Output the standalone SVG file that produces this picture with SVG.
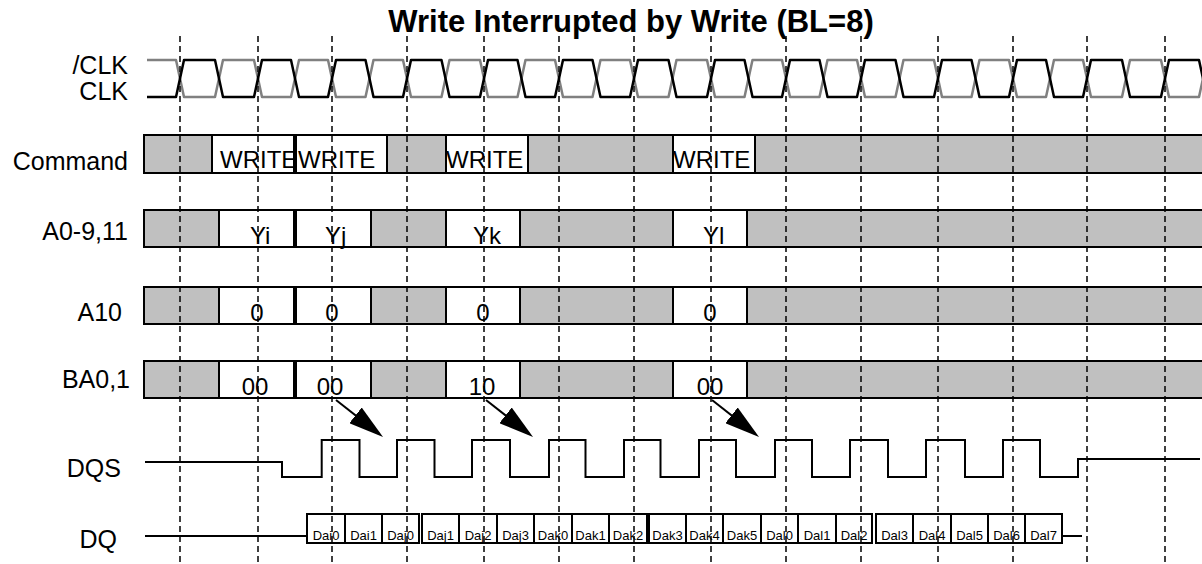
<svg xmlns="http://www.w3.org/2000/svg" width="1202" height="564" viewBox="0 0 1202 564">
<style>
text{font-family:"Liberation Sans",Arial,sans-serif;fill:#000}
.title{font-size:31px;font-weight:bold;text-anchor:middle}
.lbl{font-size:25px;text-anchor:end}
.val{font-size:24px}
.valc{font-size:24px;text-anchor:middle}
.dq{font-size:13px;text-anchor:middle}
.bar{fill:#c0c0c0;stroke:#000;stroke-width:2}
.box{fill:#fff;stroke:#000;stroke-width:2}
.clk{fill:none;stroke:#000;stroke-width:2.5;stroke-linejoin:round}
.nclk{fill:none;stroke:#808080;stroke-width:2.5;stroke-linejoin:round}
.wave{fill:none;stroke:#000;stroke-width:2}
.grid{stroke:#000;stroke-width:1.5;stroke-dasharray:6 4}
.arrow{stroke:#000;stroke-width:2;marker-end:url(#ah)}
</style>
<defs>
<marker id="ah" markerUnits="userSpaceOnUse" markerWidth="35" markerHeight="20" refX="30" refY="10" orient="auto">
<path d="M0,0 L35,10 L0,20 z" fill="#000"/>
</marker>
</defs>
<rect width="1202" height="564" fill="#fff"/>
<text class="title" x="631" y="32">Write Interrupted by Write (BL=8)</text>

<g id="clock">
<text class="lbl" x="128" y="74">/CLK</text>
<text class="lbl" x="128" y="100">CLK</text>
<path class="nclk" d="M147,60 H176 L184,97 H215 L223,60 H254 L262,97 H291 L299,60 H328 L336,97 H365.5 L373.5,60 H403 L411,97 H441.5 L449.5,60 H480 L488,97 H517.5 L525.5,60 H555 L563,97 H592.5 L600.5,60 H630 L638,97 H668.5 L676.5,60 H707 L715,97 H744.5 L752.5,60 H782 L790,97 H819.5 L827.5,60 H857 L865,97 H895.5 L903.5,60 H934 L942,97 H971.5 L979.5,60 H1009 L1017,97 H1046 L1054,60 H1083 L1091,97 H1122 L1130,60 H1161 L1169,97 H1199 L1207,60"/>
<path class="clk" d="M147,97 H176 L184,60 H215 L223,97 H254 L262,60 H291 L299,97 H328 L336,60 H365.5 L373.5,97 H403 L411,60 H441.5 L449.5,97 H480 L488,60 H517.5 L525.5,97 H555 L563,60 H592.5 L600.5,97 H630 L638,60 H668.5 L676.5,97 H707 L715,60 H744.5 L752.5,97 H782 L790,60 H819.5 L827.5,97 H857 L865,60 H895.5 L903.5,97 H934 L942,60 H971.5 L979.5,97 H1009 L1017,60 H1046 L1054,97 H1083 L1091,60 H1122 L1130,97 H1161 L1169,60 H1199 L1207,97"/>
</g>

<g id="command">
<text class="lbl" x="128" y="170">Command</text>
<rect class="bar" x="144" y="135" width="1064" height="38"/>
<rect class="box" x="212" y="135" width="82" height="38"/>
<rect class="box" x="296" y="135" width="91" height="38"/>
<rect class="box" x="446" y="135" width="82" height="38"/>
<rect class="box" x="673" y="135" width="82" height="38"/>
<text class="val" x="220" y="168">WRITE</text>
<text class="val" x="298" y="168">WRITE</text>
<text class="val" x="446" y="168">WRITE</text>
<text class="val" x="673" y="168">WRITE</text>
</g>

<g id="addr">
<text class="lbl" x="128" y="240">A0-9,11</text>
<rect class="bar" x="144" y="210" width="1064" height="37"/>
<rect class="box" x="219" y="210" width="75" height="37"/>
<rect class="box" x="296" y="210" width="75" height="37"/>
<rect class="box" x="446" y="210" width="74" height="37"/>
<rect class="box" x="673" y="210" width="74" height="37"/>
<text class="val" x="250" y="244">Yi</text>
<text class="val" x="325" y="244">Yj</text>
<text class="val" x="473" y="244">Yk</text>
<text class="val" x="703" y="244">Yl</text>
</g>

<g id="a10">
<text class="lbl" x="122" y="321">A10</text>
<rect class="bar" x="144" y="287" width="1064" height="37"/>
<rect class="box" x="219" y="287" width="75" height="37"/>
<rect class="box" x="296" y="287" width="75" height="37"/>
<rect class="box" x="446" y="287" width="74" height="37"/>
<rect class="box" x="673" y="287" width="74" height="37"/>
<text class="valc" x="257" y="321">0</text>
<text class="valc" x="332" y="321">0</text>
<text class="valc" x="483" y="321">0</text>
<text class="valc" x="710" y="321">0</text>
</g>

<g id="ba">
<text class="lbl" x="130" y="388">BA0,1</text>
<rect class="bar" x="144" y="361" width="1064" height="37"/>
<rect class="box" x="219" y="361" width="75" height="37"/>
<rect class="box" x="296" y="361" width="75" height="37"/>
<rect class="box" x="446" y="361" width="74" height="37"/>
<rect class="box" x="673" y="361" width="74" height="37"/>
<text class="valc" x="255" y="395">00</text>
<text class="valc" x="330" y="395">00</text>
<text class="valc" x="482" y="395">10</text>
<text class="valc" x="710" y="395">00</text>
</g>

<g id="dqs">
<text class="lbl" x="121" y="477">DQS</text>
<path class="wave" d="M145,462 H282 V477 H321.7 V440 H359.5 V477 H397 V440 H434.5 V477 H472 V440 H510 V477 H549 V440 H585.5 V477 H624 V440 H660.5 V477 H699 V440 H736 V477 H775 V440 H812 V477 H850 V440 H888 V477 H926 V440 H965 V477 H1003 V440 H1040 V477 H1078 V459 H1200"/>
</g>

<g id="dq">
<text class="lbl" x="117" y="548">DQ</text>
<path class="wave" d="M145,536 H307 M1062,536 H1082"/>
<rect class="box" x="307" y="514" width="38" height="29"/>
<rect class="box" x="345" y="514" width="37" height="29"/>
<rect class="box" x="382" y="514" width="37" height="29"/>
<rect class="box" x="422" y="514" width="37" height="29"/>
<rect class="box" x="459" y="514" width="38" height="29"/>
<rect class="box" x="497" y="514" width="37" height="29"/>
<rect class="box" x="534" y="514" width="38" height="29"/>
<rect class="box" x="572" y="514" width="37" height="29"/>
<rect class="box" x="609" y="514" width="38" height="29"/>
<rect class="box" x="649" y="514" width="37" height="29"/>
<rect class="box" x="686" y="514" width="37" height="29"/>
<rect class="box" x="723" y="514" width="38" height="29"/>
<rect class="box" x="761" y="514" width="37" height="29"/>
<rect class="box" x="798" y="514" width="38" height="29"/>
<rect class="box" x="836" y="514" width="36" height="29"/>
<rect class="box" x="876" y="514" width="37" height="29"/>
<rect class="box" x="913" y="514" width="38" height="29"/>
<rect class="box" x="951" y="514" width="37" height="29"/>
<rect class="box" x="988" y="514" width="37" height="29"/>
<rect class="box" x="1025" y="514" width="37" height="29"/>
<text class="dq" x="326" y="540">Dai0</text>
<text class="dq" x="363.5" y="540">Dai1</text>
<text class="dq" x="400.5" y="540">Daj0</text>
<text class="dq" x="440.5" y="540">Daj1</text>
<text class="dq" x="478" y="540">Daj2</text>
<text class="dq" x="515.5" y="540">Daj3</text>
<text class="dq" x="553" y="540">Dak0</text>
<text class="dq" x="590.5" y="540">Dak1</text>
<text class="dq" x="628" y="540">Dak2</text>
<text class="dq" x="667.5" y="540">Dak3</text>
<text class="dq" x="704.5" y="540">Dak4</text>
<text class="dq" x="742" y="540">Dak5</text>
<text class="dq" x="779.5" y="540">Dal0</text>
<text class="dq" x="817" y="540">Dal1</text>
<text class="dq" x="854" y="540">Dal2</text>
<text class="dq" x="894.5" y="540">Dal3</text>
<text class="dq" x="932" y="540">Dal4</text>
<text class="dq" x="969.5" y="540">Dal5</text>
<text class="dq" x="1006.5" y="540">Dal6</text>
<text class="dq" x="1043.5" y="540">Dal7</text>
</g>

<g id="gridlines">
<path class="grid" d="M180,36 V564 M258,36 V564 M332,36 V564 M407,36 V564 M484,36 V564 M559,36 V564 M634,36 V564 M711,36 V564 M786,36 V564 M861,36 V564 M938,36 V564 M1013,36 V564 M1087,36 V564 M1165,36 V564"/>
</g>

<g id="connectors">
<line class="arrow" x1="336" y1="400" x2="379.1" y2="433.9"/>
<line class="arrow" x1="486" y1="400" x2="529.1" y2="433.9"/>
<line class="arrow" x1="712" y1="400" x2="755.1" y2="433.9"/>
</g>
</svg>
